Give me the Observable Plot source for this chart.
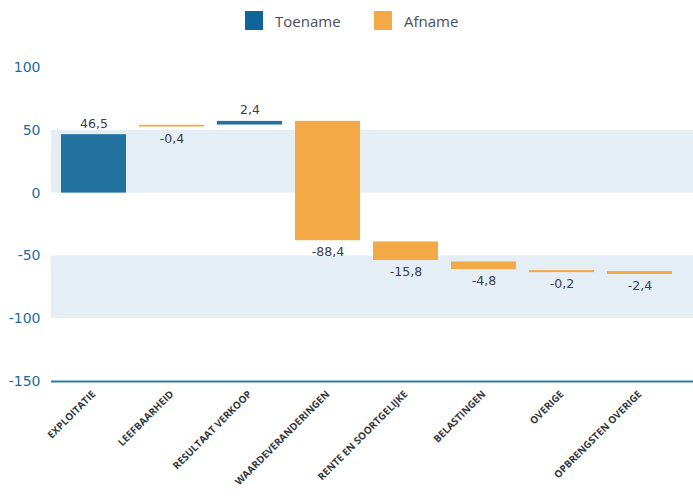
<!DOCTYPE html>
<html>
<head>
<meta charset="utf-8">
<script src="https://cdn.jsdelivr.net/npm/d3@7"></script>
<script src="https://cdn.jsdelivr.net/npm/@observablehq/plot@0.6"></script>
<style>
  html, body { margin: 0; padding: 0; background: #fff; }
  #legend { height: 45px; position: relative; font-family: "Open Sans", sans-serif; font-size: 15px; color: #4a4f5a; }
  .item { position: absolute; top: 11px; display: flex; align-items: center; height: 19px; }
  .sw { width: 18px; height: 19px; margin-right: 12px; }
  #chart svg text { font-family: "DejaVu Sans", sans-serif; }
  #chart g[aria-label="x-axis tick label"] text { font-family: "Open Sans", sans-serif; font-weight: bold; }
</style>
</head>
<body>
<div id="legend"></div>
<div id="chart"></div>
<script>
const categories = ["EXPLOITATIE", "LEEFBAARHEID", "RESULTAAT VERKOOP", "WAARDEVERANDERINGEN", "RENTE EN SOORTGELIJKE", "BELASTINGEN", "OVERIGE", "OPBRENGSTEN OVERIGE"];
const changes = [46.5, -0.4, 2.4, -88.4, -15.8, -4.8, -0.2, -2.4];
const barStart = [0, 54.0, 54.2, 57.1, -38.9, -54.8, -61.7, -62.5];
const barEnd = [46.5, 52.6, 57.1, -37.9, -53.7, -60.9, -63.3, -64.8];
const yTicks = [100, 50, 0, -50, -100, -150];
const bandLow = [0, -100];
const bandHigh = [50, -50];
const seriesNames = ["Toename", "Afname"];

const colors = {Toename: "#21729f", Afname: "#f3a946"};
const legendColors = {Toename: "#0f6598", Afname: "#f3a946"};

const data = categories.map((c, i) => ({
  cat: c, change: changes[i], start: barStart[i], end: barEnd[i],
  series: changes[i] >= 0 ? seriesNames[0] : seriesNames[1],
  label: String(changes[i]).replace(".", ",")
}));
const bands = bandLow.map((lo, i) => ({lo, hi: bandHigh[i]}));

// legend
const legend = document.getElementById("legend");
const legendX = [245, 374];
seriesNames.forEach((s, i) => {
  const it = document.createElement("div");
  it.className = "item";
  it.style.left = legendX[i] + "px";
  it.innerHTML = `<div class="sw" style="background:${legendColors[s]}"></div><span>${s}</span>`;
  legend.appendChild(it);
});

const chart = Plot.plot({
  width: 693,
  height: 457,
  marginTop: 22,
  marginBottom: 121,
  marginLeft: 51,
  marginRight: 0,
  x: {domain: categories, range: [54.5, 678.5], paddingInner: 0.17, paddingOuter: 0.085},
  y: {domain: [-150, 100]},
  marks: [
    Plot.rect(bands, {y1: "lo", y2: "hi", fill: "#e6eef5"}),
    Plot.ruleY([-150], {stroke: "#2b7ba8", strokeWidth: 2}),
    Plot.axisY({ticks: yTicks, tickFormat: d => String(d), tickSize: 0, tickPadding: 11, fontSize: 14, fill: "#1d6c9c", label: null}),
    Plot.axisX({tickSize: 0, tickPadding: 11, tickRotate: -45, fontSize: 10, fill: "#333840", label: null}),
    Plot.rectY(data, {x: "cat", y1: "start", y2: "end", fill: d => colors[d.series]}),
    Plot.text(data.filter(d => d.change >= 0), {x: "cat", y: "end", text: "label", dy: -11, fontSize: 12.5, fill: "#3a3f4a"}),
    Plot.text(data.filter(d => d.change < 0), {x: "cat", y: "end", text: "label", dy: 11.5, fontSize: 12.5, fill: "#3a3f4a"})
  ]
});
document.getElementById("chart").appendChild(chart);
</script>
</body>
</html>
